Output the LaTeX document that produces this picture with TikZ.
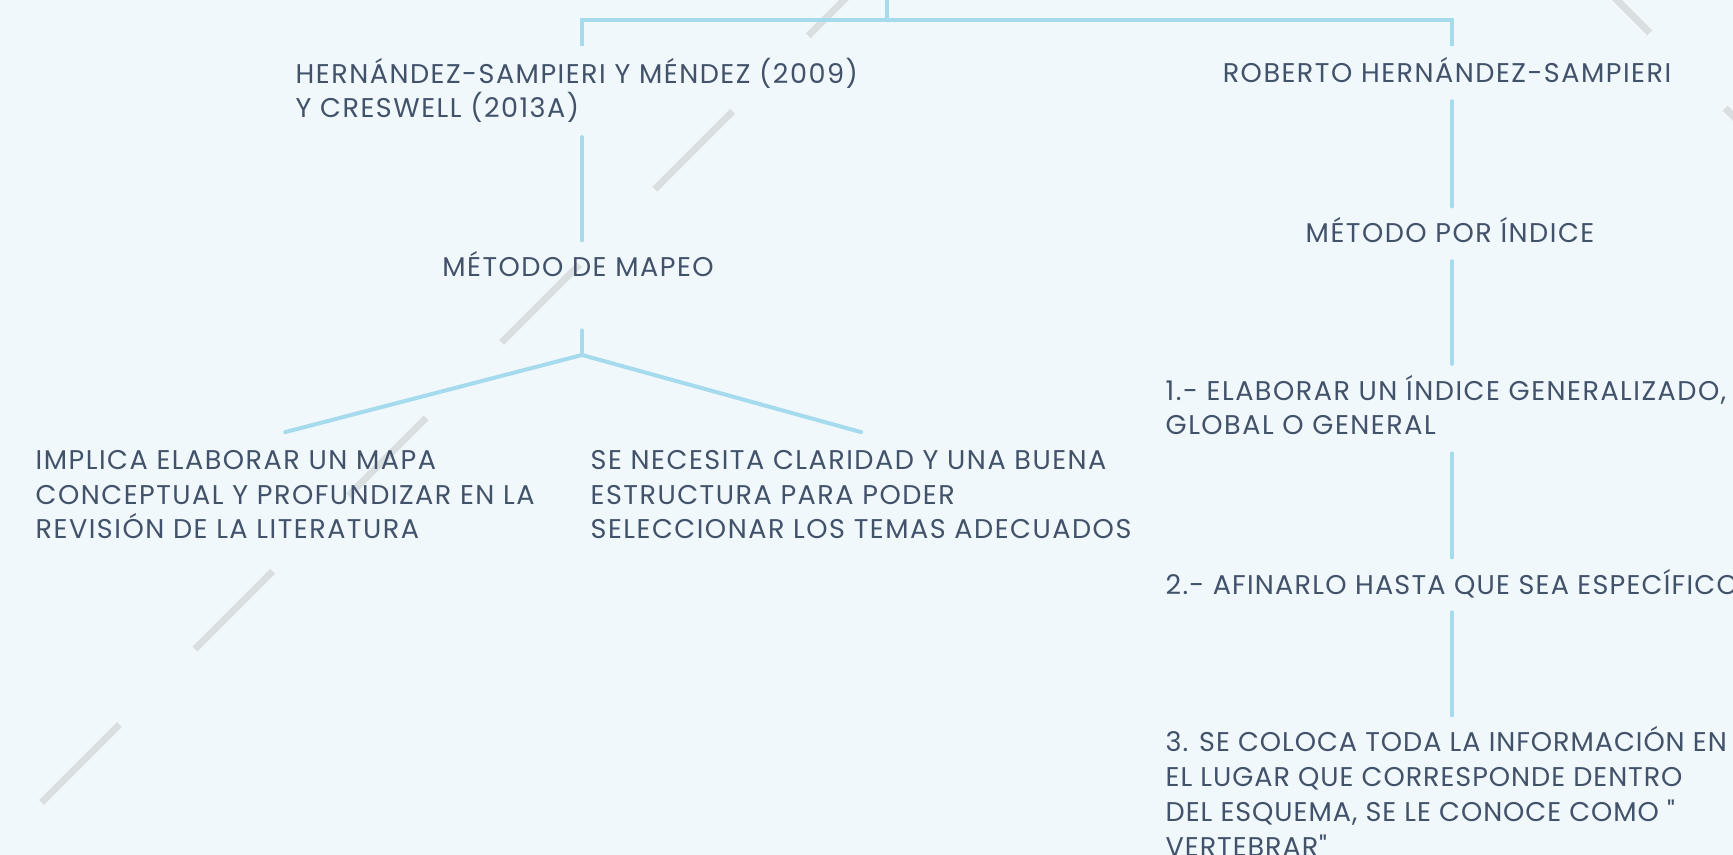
\documentclass[tikz,border=0pt]{standalone}
\usepackage{fontspec}
\setmainfont{Poppins}[LetterSpace=5.5,Ligatures=TeXOff]
\begin{document}
\begin{tikzpicture}[x=0.01cm,y=-0.01cm,
  txt/.style={inner xsep=0pt,inner ysep=5pt,text=ink,
    font=\fontsize{7.7}{9.88}\selectfont},
  tight/.style={font=\fontsize{7.7}{9.88}\selectfont\addfontfeature{LetterSpace=#1}},
  one/.style={txt,text height=5.2pt,text depth=0pt,anchor=base},
  many/.style={txt,align=left,anchor=base west},
  link/.style={draw=wire,line width=0.04cm,line cap=round},
  stripe/.style={draw=shade,line width=0.07cm,dash pattern=on 1.10cm off 1.067cm}]
% Changing colors
\definecolor{paper}{RGB}{240,248,251}%
\definecolor{wire}{RGB}{166,219,238}%
\definecolor{shade}{RGB}{217,223,224}%
\definecolor{ink}{RGB}{66,82,107}%

% Drawing background
\useasboundingbox (0,0) rectangle (1733,855);
\clip (0,0) rectangle (1733,855);
\fill[paper] (0,0) rectangle (1733,855);
\draw[stripe] (886,-42) -- (-20,864);
\draw[stripe] (1572,-45) -- (1900,283);

% Drawing text nodes (multi-line ones sit on their last baseline)
\node[many] (hms) at (295,118) {HERNÁNDEZ-SAMPIERI Y MÉNDEZ (2009)\\Y CRESWELL (2013A)};
\node[one] (roberto) at (1447,83) {ROBERTO HERNÁNDEZ-SAMPIERI};
\node[one] (mapeo) at (578,277) {MÉTODO DE MAPEO};
\node[one] (indice) at (1450,243) {MÉTODO POR ÍNDICE};
\node[many] (leafL) at (35,539) {IMPLICA ELABORAR UN MAPA\\CONCEPTUAL Y PROFUNDIZAR EN LA\\REVISIÓN DE LA LITERATURA};
\node[many] (leafR) at (590,539) {SE NECESITA CLARIDAD Y UNA BUENA\\ESTRUCTURA PARA PODER\\SELECCIONAR LOS TEMAS ADECUADOS};
\node[many] (item1) at (1165,435) {1.- ELABORAR UN ÍNDICE GENERALIZADO,\\GLOBAL O GENERAL};
\node[one,tight=4.5,anchor=base west] (item2) at (1165,594) {2.- AFINARLO HASTA QUE SEA ESPECÍFICO};
\node[many,tight=3.5] (item3) at (1165,856) {3. SE COLOCA TODA LA INFORMACIÓN EN\\EL LUGAR QUE CORRESPONDE DENTRO\\DEL ESQUEMA, SE LE CONOCE COMO "\\VERTEBRAR"};

% Drawing connectors
\coordinate (stem) at (887,0);
\coordinate (busL) at (582,20);
\coordinate (busR) at (1452,20);
\coordinate (fork) at (582,355);
\draw[link] (stem) -- (stem |- busL);
\draw[link,line cap=butt] (roberto.north -| busL) -- (busL) -- (busR) -- (roberto.north -| busR);
\draw[link,shorten <=-1.2pt] (hms.south -| busL) -- (mapeo.north -| busL);
\draw[link,shorten <=10pt] (mapeo.south -| fork) -- (fork);
\draw[link] (leafL.north) -- (fork) -- (leafR.north);
\draw[link] (roberto.south -| busR) -- (indice.north -| busR);
\draw[link,shorten >=-2pt] (indice.south -| busR) -- (item1.north -| busR);
\draw[link] (item1.south -| busR) -- (item2.north -| busR);
\draw[link,shorten >=-2pt] (item2.south -| busR) -- (item3.north -| busR);
\end{tikzpicture}
\end{document}
